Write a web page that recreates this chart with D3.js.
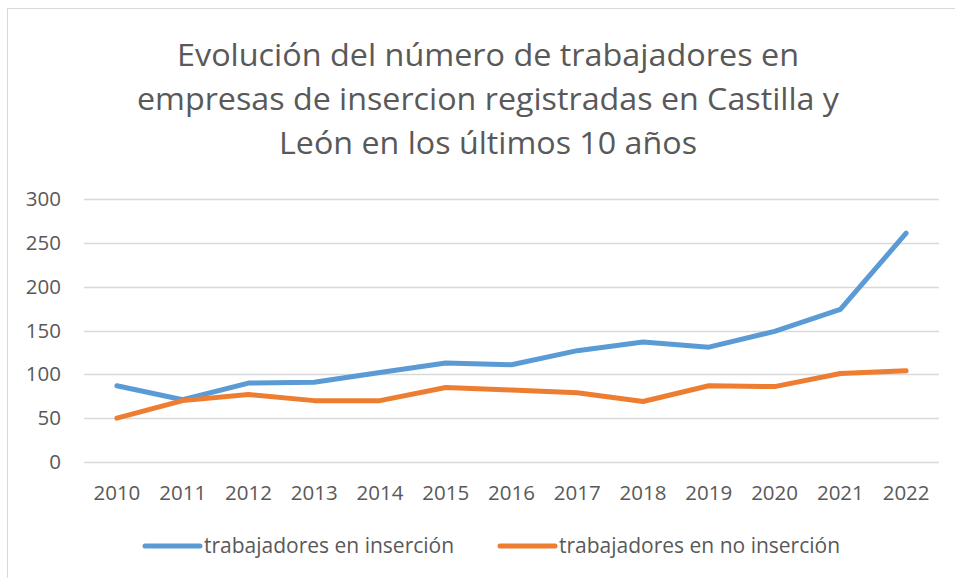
<!DOCTYPE html>
<html lang="es">
<head>
  <meta charset="UTF-8">
  <title>Evolución trabajadores</title>
  <style>
    html, body { margin: 0; width: 100%; height: 100%; overflow: hidden; background: #fff; }
    svg { display: block; font-family: "Open Sans", "Noto Sans", sans-serif; }
  </style>
</head>
<body>
  <div id="chart"></div>
  <script src="https://cdn.jsdelivr.net/npm/d3@7"></script>
  <script>
    const years = ['2010', '2011', '2012', '2013', '2014', '2015', '2016', '2017', '2018', '2019', '2020', '2021', '2022']
    const insercion = [87, 71, 90, 91, 102, 113, 111, 127, 137, 131, 149, 174, 261]
    const noInsercion = [50, 70, 77, 70, 70, 85, 82, 79, 69, 87, 86, 101, 104]
    const yTicks = [0, 50, 100, 150, 200, 250, 300]
    const titleLines = [
      'Evolución del número de trabajadores en',
      'empresas de insercion registradas en Castilla y',
      'León en los últimos 10 años'
    ]
    const seriesNames = ['trabajadores en inserción', 'trabajadores en no inserción']

    const width = 955
    const height = 578
    const colors = ['#5B9BD5', '#ED7D31']
    const textColor = '#595959'

    const svg = d3.select('#chart').append('svg')
      .attr('width', width)
      .attr('height', height)

    // chart frame (only top and left show in the crop)
    svg.append('rect')
      .attr('x', 7.5).attr('y', 8.5)
      .attr('width', 960).attr('height', 600)
      .attr('fill', 'none')
      .attr('stroke', '#D9D9D9')

    const x = d3.scaleBand().domain(years).range([84, 939])
    const y = d3.scaleLinear().domain([0, 300]).range([462, 199])

    // title
    const titleFits = [622, 702, 418]
    svg.append('g').selectAll('text')
      .data(titleLines)
      .join('text')
      .attr('x', 488)
      .attr('y', (d, i) => 66 + i * 44)
      .attr('text-anchor', 'middle')
      .attr('fill', textColor)
      .attr('font-size', 31)
      .attr('textLength', (d, i) => titleFits[i])
      .attr('lengthAdjust', 'spacingAndGlyphs')
      .text(d => d)

    // gridlines
    svg.append('g')
      .selectAll('line')
      .data(yTicks)
      .join('line')
      .attr('x1', 84).attr('x2', 939)
      .attr('y1', d => Math.round(y(d)) + 0.5)
      .attr('y2', d => Math.round(y(d)) + 0.5)
      .attr('stroke', '#D9D9D9')
      .attr('stroke-width', 1.3)

    // y axis labels
    const yAxis = svg.append('g')
      .attr('transform', 'translate(84,0)')
      .call(d3.axisLeft(y).tickValues(yTicks).tickSize(0).tickPadding(23))
    yAxis.select('.domain').remove()
    yAxis.selectAll('text')
      .attr('fill', textColor)
      .attr('font-size', 20.5)
      .attr('font-family', '"Open Sans", sans-serif')

    // x axis labels
    const xAxis = svg.append('g')
      .attr('transform', 'translate(0,462)')
      .call(d3.axisBottom(x).tickSize(0).tickPadding(23))
    xAxis.select('.domain').remove()
    xAxis.selectAll('text')
      .attr('fill', textColor)
      .attr('font-size', 20.5)
      .attr('font-family', '"Open Sans", sans-serif')

    // lines
    const line = d3.line()
      .x((d, i) => x(years[i]) + x.bandwidth() / 2)
      .y(d => y(d))

    svg.append('g')
      .selectAll('path')
      .data([insercion, noInsercion])
      .join('path')
      .attr('d', line)
      .attr('fill', 'none')
      .attr('stroke', (d, i) => colors[i])
      .attr('stroke-width', 5)
      .attr('stroke-linecap', 'round')
      .attr('stroke-linejoin', 'round')

    // legend
    const legendX = [145, 500]
    const legend = svg.append('g')
      .selectAll('g')
      .data(seriesNames)
      .join('g')
      .attr('transform', (d, i) => `translate(${legendX[i]},546)`)

    legend.append('line')
      .attr('x1', 0).attr('x2', 55)
      .attr('stroke', (d, i) => colors[i])
      .attr('stroke-width', 5)
      .attr('stroke-linecap', 'round')

    legend.append('text')
      .attr('x', 59)
      .attr('dy', '0.35em')
      .attr('fill', textColor)
      .attr('font-size', 21)
      .text(d => d)
  </script>
</body>
</html>
